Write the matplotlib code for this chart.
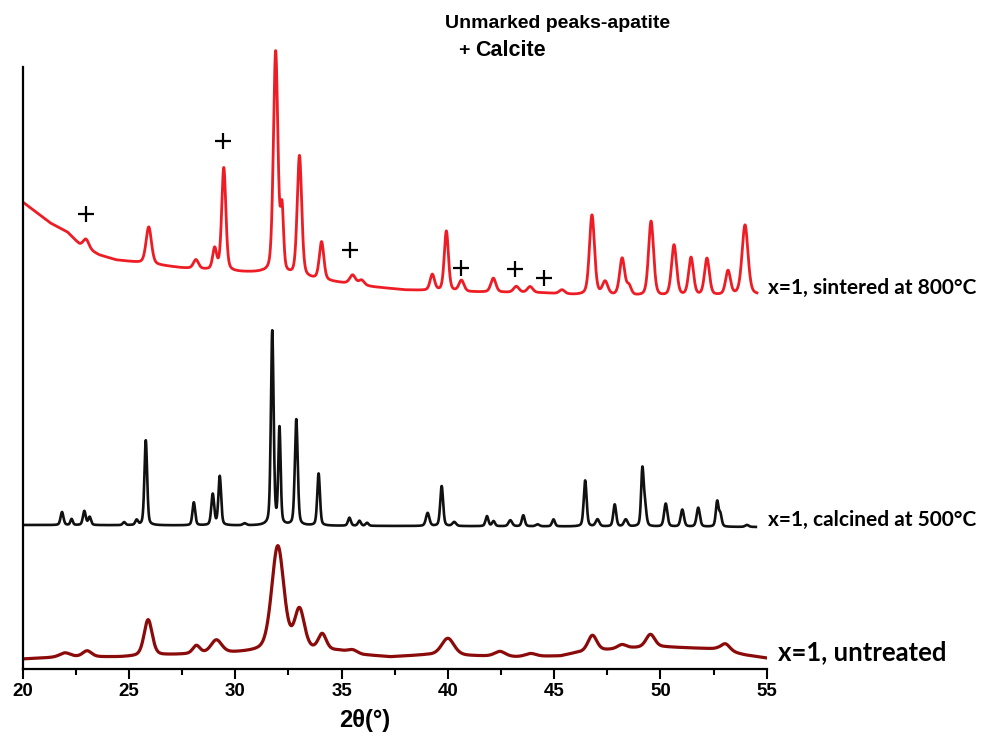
import numpy as np
import matplotlib
matplotlib.use("Agg")
import matplotlib.pyplot as plt

# XRD patterns, x=1 sample; intensities in arbitrary units (stacked)
# background read at a few 2theta positions, peaks as (2theta, height above background, fwhm)
sint_bg_x = [20, 21.3, 22.1, 22.7, 23.6, 24.4, 25.2, 26.3, 27.5, 29.9, 31.2, 35, 36.5, 38, 41, 44.5, 46, 50, 54.55]
sint_bg_y = [467, 446, 437, 424, 414, 409, 407, 404, 401, 397, 396, 386, 382, 379, 377, 376, 374, 372, 374]
sint_peaks = [(22.98, 9, 0.32), (25.93, 37, 0.3), (28.15, 9, 0.28), (29.03, 21, 0.22), (29.46, 103, 0.23),
              (31.9, 222, 0.25), (32.2, 60, 0.17), (33.02, 121, 0.25), (34.06, 38, 0.25), (35.52, 9, 0.32),
              (35.94, 5, 0.3), (39.27, 16, 0.25), (39.93, 60, 0.23), (40.64, 11, 0.28), (42.14, 14, 0.28),
              (43.22, 6, 0.3), (43.87, 6, 0.3), (45.37, 4, 0.3), (46.78, 80, 0.28), (47.4, 13, 0.3),
              (48.2, 37, 0.28), (48.52, 9, 0.25), (49.56, 75, 0.28), (50.64, 51, 0.28), (51.44, 38, 0.27),
              (52.19, 37, 0.27), (53.18, 24, 0.27), (53.98, 70, 0.33)]

calc_bg_x = [20, 54.5]
calc_bg_y = [144, 142]
calc_peaks = [(21.85, 13, 0.16), (22.3, 6, 0.13), (22.9, 14, 0.16), (23.15, 8, 0.15), (24.77, 3, 0.15),
              (25.36, 5, 0.15), (25.79, 85, 0.15), (28.05, 23, 0.15), (28.94, 31, 0.16), (29.27, 49, 0.15),
              (30.44, 2, 0.2), (31.74, 194, 0.15), (32.08, 96, 0.13), (32.87, 106, 0.16), (33.92, 52, 0.15),
              (35.37, 8, 0.16), (35.84, 5, 0.16), (36.2, 3, 0.16), (39.05, 13, 0.19), (39.71, 40, 0.16),
              (40.3, 4, 0.2), (41.84, 10, 0.16), (42.15, 5, 0.16), (42.94, 6, 0.2), (43.55, 11, 0.16),
              (44.22, 2, 0.2), (44.97, 7, 0.16), (46.46, 46, 0.16), (47.04, 7, 0.2), (47.85, 22, 0.16),
              (48.37, 7, 0.2), (49.15, 55, 0.14), (49.27, 20, 0.16), (50.25, 23, 0.18), (51.03, 17, 0.18),
              (51.78, 19, 0.18), (52.67, 25, 0.15), (52.82, 12, 0.15), (54.07, 2, 0.2)]

untr_bg_x = [20, 22, 24.6, 26.9, 29.9, 31, 34.9, 36, 37.3, 39, 41.3, 43.2, 45.3, 46, 47.5, 48.7, 50.2, 52.65, 54, 55]
untr_bg_y = [10, 12, 12, 14, 16, 17, 18, 14, 12, 14, 13, 12, 13, 16, 19, 21, 22, 20, 14, 11]
untr_peaks = [(21.99, 4, 0.6), (23.03, 6, 0.5), (25.9, 36, 0.45), (28.17, 8, 0.4), (29.11, 13, 0.6),
              (32.0, 105, 0.68), (33.02, 40, 0.55), (34.09, 16, 0.45), (35.52, 3, 0.5), (40.0, 17, 0.7),
              (42.45, 5, 0.6), (43.9, 3, 0.6), (46.8, 16, 0.5), (48.19, 4, 0.5), (49.53, 13, 0.5),
              (53.06, 7, 0.5)]

# calcite reflections marked with "+"
calcite_pos = [22.97, 29.41, 35.42, 40.64, 43.18, 44.5]
calcite_y = [455, 528, 419, 401, 400, 391]


def pattern(x, bg_x, bg_y, peaks, eta=0.35):
    y = np.interp(x, bg_x, bg_y)
    for c, h, w in peaks:
        d = (x - c) / w
        y = y + h * ((1 - eta) * np.exp(-4 * np.log(2) * d ** 2) + eta / (1 + 4 * d ** 2))
    return y


W, H = 989, 733
fig = plt.figure(figsize=(W / 100, H / 100), dpi=100)
ax = fig.add_axes([22.7 / W, 1 - 669 / H, 744 / W, 629 / H])

x_s = np.arange(20, 54.55, 0.01)
x_c = np.arange(20, 54.5, 0.01)
x_u = np.arange(20, 55.0, 0.01)

ax.plot(x_u, pattern(x_u, untr_bg_x, untr_bg_y, untr_peaks), color="#8b0a0a", lw=2.3)
ax.plot(x_c, pattern(x_c, calc_bg_x, calc_bg_y, calc_peaks), color="#111111", lw=1.9)
ax.plot(x_s, pattern(x_s, sint_bg_x, sint_bg_y, sint_peaks), color="#ee1c24", lw=2.0)
ax.plot(calcite_pos, calcite_y, ls="none", marker="+", color="black", ms=11, mew=1.6)

ax.set_xlim(20, 55)
ax.set_ylim(0, 629)
ax.spines["top"].set_visible(False)
ax.spines["right"].set_visible(False)
ax.spines["left"].set_bounds(0, 602)
for s in ("left", "bottom"):
    ax.spines[s].set_linewidth(1.6)
ax.set_yticks([])
ax.set_xticks(np.arange(20, 56, 5))
ax.set_xticks(np.arange(22.5, 55, 5), minor=True)
ax.tick_params(axis="x", which="major", direction="out", length=7, width=1.5, pad=3)
ax.tick_params(axis="x", which="minor", direction="out", length=4, width=1.5)
for t in ax.get_xticklabels():
    t.set_fontfamily("Liberation Sans")
    t.set_fontweight("bold")
    t.set_fontsize(13.5)

fig.text(365 / W, 1 - 720 / H, "2θ(°)", ha="center", va="center",
         fontsize=17, fontweight="bold", family="Liberation Sans")

fig.text(768 / W, 1 - 288 / H, "x=1, sintered at 800°C", ha="left", va="center",
         fontsize=15, fontweight="bold", family="Lato")
fig.text(768 / W, 1 - 520 / H, "x=1, calcined at 500°C", ha="left", va="center",
         fontsize=15, fontweight="bold", family="Lato")
fig.text(778 / W, 1 - 652 / H, "x=1, untreated", ha="left", va="center",
         fontsize=18.5, fontweight="bold", family="Lato")

fig.text(445 / W, 1 - 23 / H, "Unmarked peaks-apatite", ha="left", va="center",
         fontsize=14, fontweight="bold", family="Liberation Sans")
fig.text(458 / W, 1 - 51 / H, "+", ha="left", va="center",
         fontsize=14, fontweight="bold", family="Liberation Sans")
fig.text(475 / W, 1 - 50 / H, "Calcite", ha="left", va="center",
         fontsize=15.5, fontweight="bold", family="Liberation Sans")

fig.savefig("out.png", dpi=100)
